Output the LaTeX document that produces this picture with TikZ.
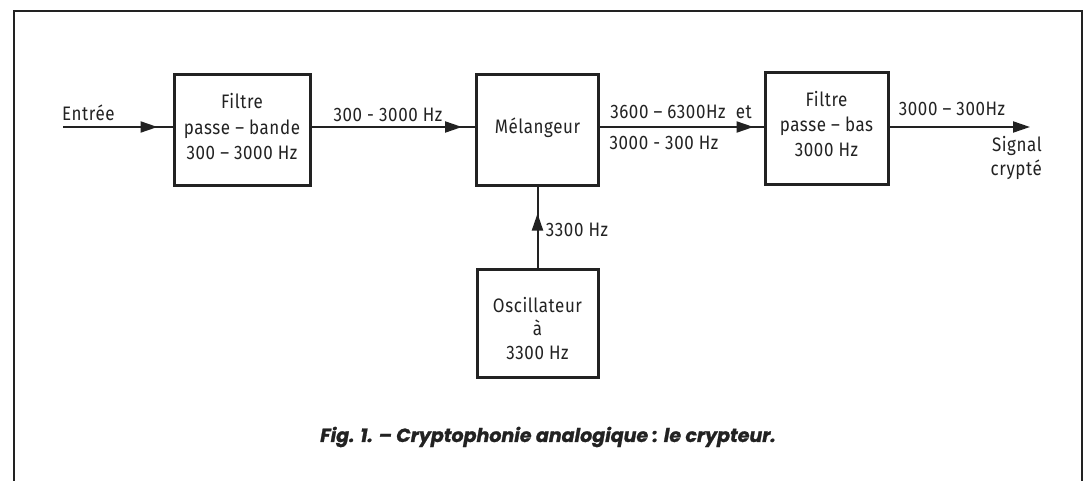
\documentclass[tikz,border=0pt]{standalone}
\usepackage{fontspec}
\setmainfont{Fira Sans}
\newfontfamily\dinfont[LetterSpace=3,FakeStretch=0.87]{Fira Sans}
\newfontfamily\capfont[BoldItalicFeatures={FakeBold=1.2}]{Poppins}
\usetikzlibrary{arrows.meta,calc}
\definecolor{ink}{HTML}{222222}
\tikzset{
  blk/.style={draw=ink, line width=3pt, minimum width=#1, inner sep=0pt},
  txt/.style={font=\dinfont\fontsize{19.5}{25}\selectfont, text=ink, inner sep=0pt, align=center},
  lbl/.style={font=\dinfont\fontsize{19.5}{24}\selectfont, text=ink, inner sep=0pt},
  conn/.style={draw=ink, line width=2pt},
  arrowat/.style={draw=ink, line width=2pt, -{Triangle[length=17pt,width=11pt]}, shorten >=#1},
  frame/.style={draw=ink, line width=2.2pt}
}
\begin{document}
\begin{tikzpicture}[x=1pt,y=-1pt]
\useasboundingbox (0,0) rectangle (1089,481);
\fill[white] (0,0) rectangle (1089,481);
\draw[frame] (14,481) -- (14,11) -- (1082,11) -- (1082,481);

\node[blk=136pt, minimum height=111pt] (f1) at (242,130.5) {};
\node[blk=122pt, minimum height=111pt] (mel) at (537.5,130.5) {};
\node[blk=123pt, minimum height=112pt] (f2) at (826.5,129) {};
\node[blk=121pt, minimum height=108pt] (osc) at (537.5,323) {};

\node[txt] (f1t) at ($(f1.center)+(0,-4)$) {Filtre\\[1pt]passe – bande\\300 – 3000 Hz};
\node[txt] (melt) at ($(mel.center)+(0,-3)$) {Mélangeur};
\node[txt] (f2t) at ($(f2.center)+(0,-5)$) {Filtre\\passe – bas\\3000 Hz};
\node[txt, font=\dinfont\fontsize{19.5}{23.5}\selectfont] (osct) at ($(osc.center)+(0,5.5)$) {Oscillateur\\à\\3300 Hz};

\coordinate (in) at (63,127);
\coordinate (out) at (1030,127);

\draw[conn] (in) -- (in -| f1.west);
\draw[arrowat=15pt] (in) -- (in -| f1.west);
\draw[conn] (in -| f1.east) -- (in -| mel.west);
\draw[arrowat=13pt] (in -| f1.east) -- (in -| mel.west);
\draw[conn] (in -| mel.east) -- (in -| f2.west);
\draw[arrowat=10pt] (in -| mel.east) -- (in -| f2.west);
\draw[arrowat=0pt] (in -| f2.east) -- (out);
\draw[conn] (osc.north) -- (mel.south);
\draw[arrowat=26pt] (osc.north) -- (mel.south);

\node[lbl, anchor=west] (le) at (62,113) {Entrée};
\node[lbl] (l1) at (388,115) {300 - 3000 Hz};
\node[lbl] (l2) at (681,112) {3600 – 6300Hz\ \ et};
\node[lbl] (l3) at (664,143) {3000 - 300 Hz};
\node[lbl] (l4) at (952,109) {3000 – 300Hz};
\node[lbl, align=right, anchor=north east] (l5) at (1042,136) {Signal\\crypté};
\node[lbl] (l6) at (577,230) {3300 Hz};

\node[text=ink, inner sep=0pt, font=\capfont\bfseries\itshape\fontsize{19}{22}\selectfont] (cap) at (548,437)
  {Fig. 1. – Cryptophonie analogique : le crypteur.};
\end{tikzpicture}
\end{document}
